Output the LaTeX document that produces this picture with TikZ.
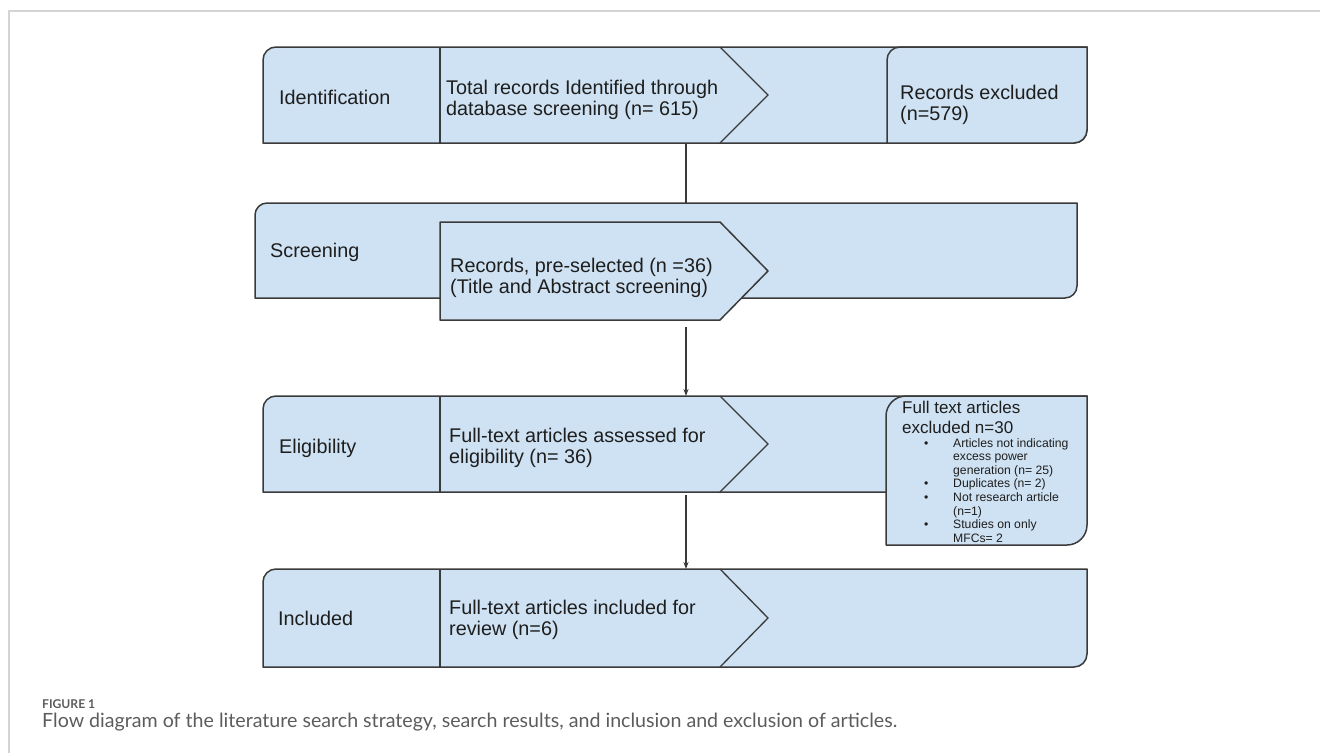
\documentclass[tikz,border=0pt]{standalone}
\usepackage{fontspec}
\setmainfont{Liberation Sans}
\newfontfamily\capfont{Lato}
\usetikzlibrary{arrows.meta}
\definecolor{bandfill}{HTML}{CFE2F3}
\definecolor{bandline}{HTML}{3A3A3A}
\definecolor{txt}{HTML}{1E1E1E}
\definecolor{captxt}{HTML}{5C5C5C}
\definecolor{framegray}{HTML}{D4D4D4}
\begin{document}
\begin{tikzpicture}[x=1pt,y=-1pt,
  band/.style={fill=bandfill,draw=bandline,line width=1.5pt,line join=round},
  sepline/.style={draw=bandline,line width=1.3pt},
  conn/.style={draw=bandline,line width=1.1pt},
  arr/.style={conn,-{Stealth[length=7pt,width=5pt]}},
  lbl/.style={anchor=base west,inner sep=0pt,text=txt,font=\fontsize{19.8}{21.5}\selectfont},
  head/.style={anchor=base west,inner sep=0pt,text=txt,font=\fontsize{17}{20}\selectfont},
  itm/.style={anchor=base west,inner sep=0pt,text=txt,font=\fontsize{12.2}{13.6}\selectfont},
  captext/.style={anchor=base west,inner sep=0pt,text=captxt}]
\useasboundingbox (0,0) rectangle (1320,753);
% figure frame
\draw[framegray,line width=2pt] (1320,11) -- (9,11) -- (9,753);

% ---- Row 1: Identification
\draw[band] (263,143) -- (263,60) .. controls (263,52.8) and (268.8,47) .. (276,47)
  -- (1087,47) -- (1087,130) .. controls (1087,137.2) and (1081.2,143) .. (1074,143) -- cycle;
\draw[sepline] (440,47) -- (440,143);
\draw[sepline] (720,47) -- (768,95) -- (720,143);
\draw[band] (887,143) -- (887,60) .. controls (887,52.8) and (892.8,47) .. (900,47)
  -- (1087,47) -- (1087,130) .. controls (1087,137.2) and (1081.2,143) .. (1074,143) -- cycle;
\node[lbl] (id) at (279,104) {Identification};
\node[lbl] (idt) at (446,94) {\begin{tabular}[t]{@{}l@{}}Total records Identified through\\database screening (n= 615)\end{tabular}};
\node[lbl] (idx) at (900,99) {\begin{tabular}[t]{@{}l@{}}Records excluded\\(n=579)\end{tabular}};

% ---- Row 2: Screening
\draw[band] (255,298) -- (255,215) .. controls (255,208.4) and (260.4,203) .. (267,203)
  -- (1077,203) -- (1077,286) .. controls (1077,292.6) and (1071.6,298) .. (1065,298) -- cycle;
\draw[band] (440,222) -- (720,222) -- (768,271) -- (720,320) -- (440,320) -- cycle;
\node[lbl] (sc) at (270,257) {Screening};
\node[lbl] (sct) at (450,272) {\begin{tabular}[t]{@{}l@{}}Records, pre-selected (n =36)\\(Title and Abstract screening)\end{tabular}};

% ---- Row 3: Eligibility
\draw[band] (263,492) -- (263,409) .. controls (263,401.8) and (268.8,396) .. (276,396)
  -- (1087,396) -- (1087,492) -- cycle;
\draw[sepline] (440,396) -- (440,492);
\draw[sepline] (720,396) -- (768,444) -- (720,492);
\draw[band] (886,545) -- (886,416) .. controls (886,405) and (895,396) .. (906,396)
  -- (1087,396) -- (1087,525) .. controls (1087,536) and (1078,545) .. (1067,545) -- cycle;
\node[lbl] (el) at (279,453) {Eligibility};
\node[lbl] (elt) at (449,442) {\begin{tabular}[t]{@{}l@{}}Full-text articles assessed for\\eligibility (n= 36)\end{tabular}};
\node[head] (exh) at (902,413) {\begin{tabular}[t]{@{}l@{}}Full text articles\\excluded n=30\end{tabular}};
\node[itm] (exl) at (924,447) {\begin{tabular}[t]{@{}p{29pt}@{}l@{}}•&Articles not indicating\\&excess power\\&generation (n= 25)\\•&Duplicates (n= 2)\\•&Not research article\\&(n=1)\\•&Studies on only\\&MFCs= 2\end{tabular}};

% ---- Row 4: Included
\draw[band] (263,667) -- (263,582) .. controls (263,574.8) and (268.8,569) .. (276,569)
  -- (1087,569) -- (1087,654) .. controls (1087,661.2) and (1081.2,667) .. (1074,667) -- cycle;
\draw[sepline] (440,569) -- (440,667);
\draw[sepline] (720,569) -- (768,618) -- (720,667);
\node[lbl] (in) at (278,625) {Included};
\node[lbl] (int) at (449,614) {\begin{tabular}[t]{@{}l@{}}Full-text articles included for\\review (n=6)\end{tabular}};

% ---- connectors
\coordinate (c1a) at (686,143); \coordinate (c1b) at (686,203);
\coordinate (c2a) at (686,327); \coordinate (c2b) at (686,396);
\coordinate (c3a) at (686,495); \coordinate (c3b) at (686,569);
\draw[conn] (c1a) -- (c1b);
\draw[arr] (c2a) -- (c2b);
\draw[arr] (c3a) -- (c3b);

% ---- caption
\node[captext] (fig) at (42,708) {\resizebox{53pt}{!}{\capfont\bfseries\fontsize{14}{16}\selectfont FIGURE 1}};
\node[captext] (capt) at (42,727) {\resizebox{855pt}{!}{\capfont\fontsize{16}{19}\selectfont Flow diagram of the literature search strategy, search results, and inclusion and exclusion of articles.}};
\end{tikzpicture}
\end{document}
